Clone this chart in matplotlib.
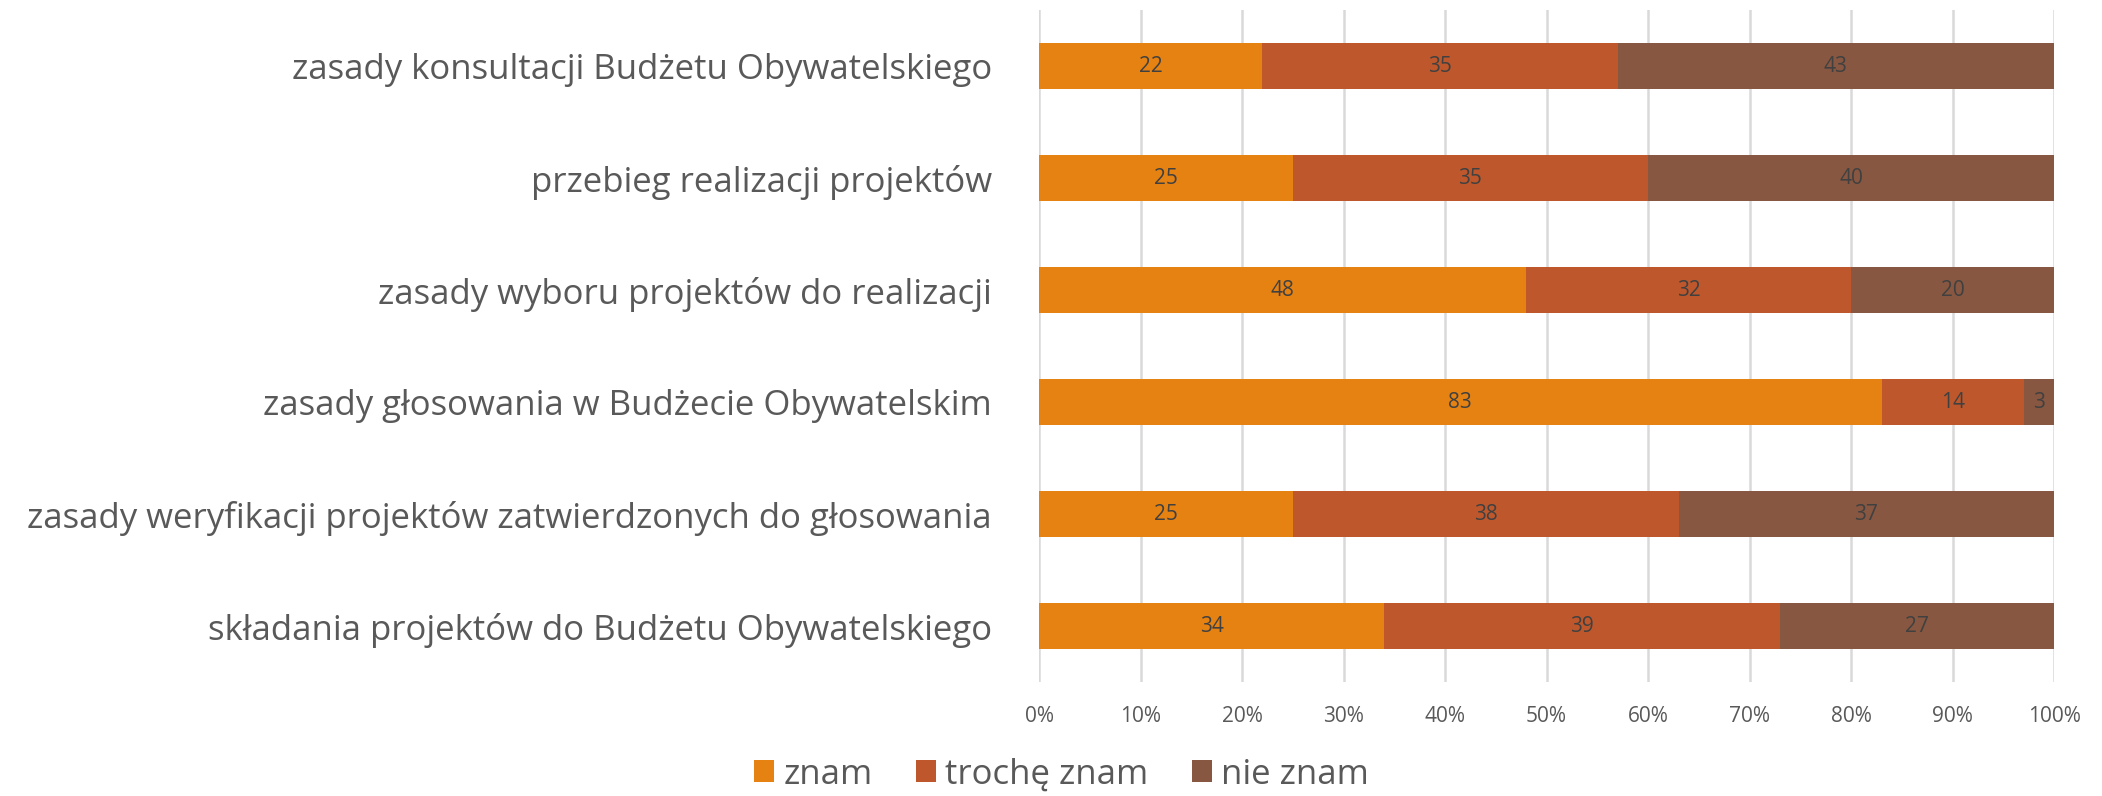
import numpy as np
import matplotlib
matplotlib.use("Agg")
import matplotlib.pyplot as plt

plt.rcParams['font.family'] = ['Open Sans', 'DejaVu Sans']

# kategorie od góry do dołu
categories = [
    "zasady konsultacji Budżetu Obywatelskiego",
    "przebieg realizacji projektów",
    "zasady wyboru projektów do realizacji",
    "zasady głosowania w Budżecie Obywatelskim",
    "zasady weryfikacji projektów zatwierdzonych do głosowania",
    "składania projektów do Budżetu Obywatelskiego",
]
znam = [22, 25, 48, 83, 25, 34]
troche_znam = [35, 35, 32, 14, 38, 39]
nie_znam = [43, 40, 20, 3, 37, 27]
series_names = ["znam", "trochę znam", "nie znam"]
colors = ["#E58212", "#BE582C", "#875741"]
xticks = np.arange(0, 101, 10)

fig = plt.figure(figsize=(21.02, 7.96), dpi=100)
ax = fig.add_axes([0.4943, 0.1432, 0.4829, 0.8442])

y = np.arange(len(categories))
left = np.zeros(len(categories))
for vals, name, c in zip([znam, troche_znam, nie_znam], series_names, colors):
    vals = np.array(vals, dtype=float)
    bars = ax.barh(y, vals, left=left, height=0.41, color=c, label=name, zorder=3)
    ax.bar_label(bars, labels=[str(int(v)) for v in vals], label_type='center',
                 color='#404040', fontsize=15)
    left += vals

ax.set_ylim(len(categories) - 0.5, -0.5)
ax.set_xlim(0, 100)
ax.set_xticks(xticks)
ax.set_xticklabels([f"{v}%" for v in xticks], color='#595959', fontsize=15)
ax.set_yticks(y)
ax.set_yticklabels(categories, color='#595959', fontsize=25)
ax.tick_params(axis='both', length=0)
ax.tick_params(axis='x', pad=17)
ax.tick_params(axis='y', pad=34)
ax.grid(axis='x', color='#D9D9D9', linewidth=1.8, zorder=0)
for s in ax.spines.values():
    s.set_visible(False)

fig.legend(loc='center', bbox_to_anchor=(0.505, 0.027), ncol=3, frameon=False,
           fontsize=25, labelcolor='#595959', handlelength=0.58, handleheight=0.58,
           handletextpad=0.27, columnspacing=1.24)

fig.savefig("out.png", dpi=100)
